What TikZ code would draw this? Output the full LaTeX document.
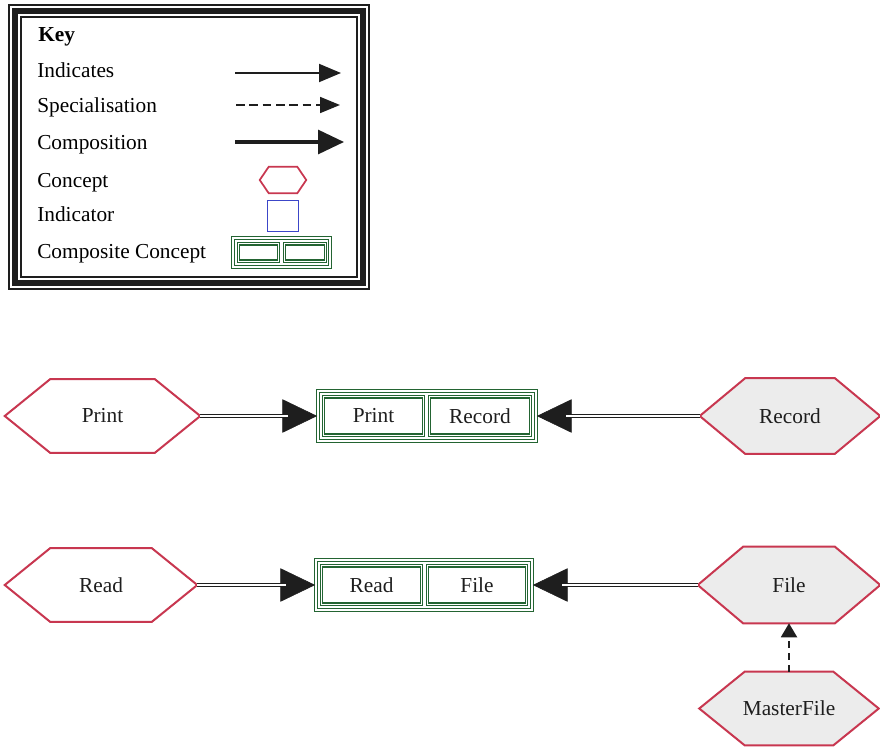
\documentclass[tikz,border=0pt]{standalone}
\usepackage{fontspec}
\setmainfont{Liberation Serif}
\usetikzlibrary{arrows.meta,backgrounds}

\definecolor{conceptred}{RGB}{200,55,80}
\definecolor{compgreen}{RGB}{35,100,50}
\definecolor{indblue}{RGB}{60,70,200}
\definecolor{ink}{RGB}{30,30,30}
\definecolor{shade}{RGB}{236,236,236}

% elongated hexagon drawn behind a named node: #1 node, #2 slant, #3 style
\newcommand{\hexoutline}[3]{%
  \begin{scope}[on background layer]
    \draw[#3] (#1.west) -- ([xshift=#2]#1.north west) -- ([xshift=-#2]#1.north east)
      -- (#1.east) -- ([xshift=-#2]#1.south east) -- ([xshift=#2]#1.south west) -- cycle;
  \end{scope}}

\tikzset{
  label/.style={anchor=base west, inner sep=0pt},
  hexnode/.style={inner sep=0pt, text=ink},
  conceptline/.style={draw=conceptred, line width=1.5pt, line join=miter},
  compouter/.style={draw=compgreen, double=white, line width=1.3pt, double distance=0.9pt, inner sep=0pt},
  compcell/.style={draw=compgreen, double=white, line width=1pt, double distance=0.9pt, inner sep=0pt, text=ink},
  comphead/.style={draw=ink, line width=0.4pt, -{Triangle[length=26pt,width=25pt]}},
  compline/.style={draw=ink, double=white, line width=1.1pt, double distance=1.4pt, shorten >=22pt},
  specarrow/.style={draw=ink, line width=1.5pt, dash pattern=on 5pt off 4pt, -{Triangle[length=10.5pt,width=12pt]}},
}

\begin{document}
\begin{tikzpicture}[x=0.75pt, y=-0.75pt, font=\fontsize{16}{19}\selectfont]
\useasboundingbox (0,0) rectangle (880,749);

% ---------- key ----------
\draw[ink, line width=0.8pt] (9,5) rectangle (369,289);
\draw[ink, line width=4.3pt] (15,11) rectangle (363,283);
\draw[ink, line width=0.9pt] (21,17) rectangle (357,277);

\node[label, font=\fontsize{16}{19}\selectfont\bfseries] (kkey) at (38,41) {Key};
\node[label] (kind) at (37,78) {Indicates};
\node[label] (kspec) at (37,112) {Specialisation};
\node[label] (kcomp) at (37,149) {Composition};
\node[label] (kcon) at (37,187) {Concept};
\node[label] (kindr) at (37,221) {Indicator};
\node[label] (kcc) at (37,258) {Composite Concept};

\coordinate (ia) at (235,73);  \coordinate (ib) at (341,73);
\coordinate (sa) at (236,105); \coordinate (sb) at (340,105);
\coordinate (ca) at (235,142); \coordinate (cb) at (344,142);
\draw[ink, line width=1.5pt, -{Triangle[length=16.5pt,width=13.5pt]}] (ia) -- (ib);
\draw[ink, line width=1.3pt, dash pattern=on 6.5pt off 3.5pt, -{Triangle[length=15pt,width=12pt]}] (sa) -- (sb);
\draw[ink, line width=2.3pt, -{Triangle[length=19.5pt,width=18pt]}] (ca) -- (cb);

\node[hexnode, minimum width=34.5pt, minimum height=19.5pt] (khex) at (283,180) {};
\hexoutline{khex}{6.75pt}{conceptline, line width=1.3pt, fill=white}
\node[draw=indblue, line width=1.1pt, minimum width=23pt, minimum height=23pt, inner sep=0pt] (kbox) at (283,216) {};
\node[compouter, minimum width=72.75pt, minimum height=21.75pt] (kcomposite) at (281.5,252.5) {};
\node[compcell, minimum width=30pt, minimum height=13pt] (kcell1) at (258.5,252.5) {};
\node[compcell, minimum width=30.75pt, minimum height=13pt] (kcell2) at (305,252.5) {};

% ---------- first row ----------
\node[hexnode, minimum width=146.25pt, minimum height=54.75pt] (print) at (102.5,416) {Print};
\hexoutline{print}{34pt}{conceptline, fill=white}
\node[hexnode, minimum width=135pt, minimum height=56.25pt] (record) at (790,416) {Record};
\hexoutline{record}{34pt}{conceptline, fill=shade}

\node[compouter, minimum width=163.5pt, minimum height=37.5pt] (pr) at (427,416) {};
\node[compcell, minimum width=75pt, minimum height=29pt] (prl) at (373.5,416) {Print};
\node[compcell, minimum width=75.75pt, minimum height=29pt] (prr) at (480,416) {Record};

\draw[comphead] (print.east) -- (pr.west);
\draw[compline] (print.east) -- (pr.west);
\draw[comphead] (record.west) -- (pr.east);
\draw[compline] (record.west) -- (pr.east);

% ---------- second row ----------
\node[hexnode, minimum width=144pt, minimum height=54.75pt] (read) at (101,585) {Read};
\hexoutline{read}{34pt}{conceptline, fill=white}
\node[hexnode, minimum width=136.5pt, minimum height=57pt] (file) at (789,585) {File};
\hexoutline{file}{34pt}{conceptline, fill=shade}

\node[compouter, minimum width=162pt, minimum height=37.5pt] (rf) at (424,585) {};
\node[compcell, minimum width=75pt, minimum height=29pt] (rfl) at (371.5,585) {Read};
\node[compcell, minimum width=74.25pt, minimum height=29pt] (rfr) at (477,585) {File};

\draw[comphead] (read.east) -- (rf.west);
\draw[compline] (read.east) -- (rf.west);
\draw[comphead] (file.west) -- (rf.east);
\draw[compline] (file.west) -- (rf.east);

% ---------- specialisation ----------
\node[hexnode, minimum width=134.25pt, minimum height=54.75pt] (master) at (789,708.5) {MasterFile};
\hexoutline{master}{34pt}{conceptline, fill=shade}
\draw[specarrow] (master.north) -- (file.south);

\end{tikzpicture}
\end{document}
